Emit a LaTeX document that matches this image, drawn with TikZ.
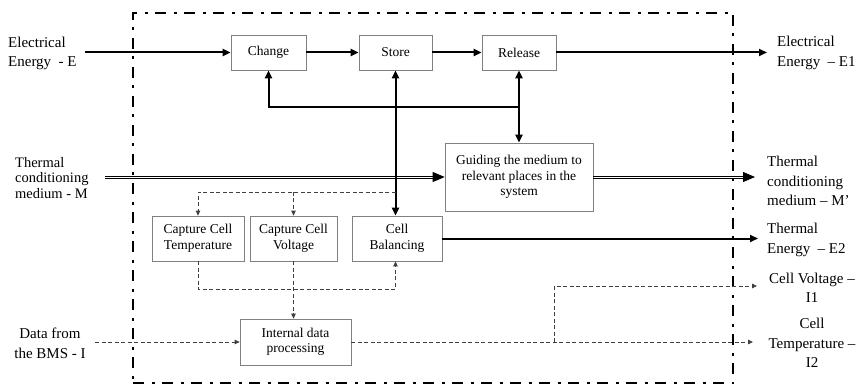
\documentclass[tikz,border=0pt]{standalone}
\usepackage{fontspec}
\setmainfont{Liberation Serif}
\usetikzlibrary{arrows.meta}
\begin{document}
\begin{tikzpicture}[x=1pt,y=-1pt,
  box/.style={draw=black!50, line width=0.7pt, fill=white, inner sep=1pt, align=center, font=\fontsize{13.5}{15.5}\selectfont},
  flow/.style={line width=2pt, -{Triangle[length=8pt,width=7pt]}},
  bflow/.style={line width=2pt, {Triangle[length=8pt,width=7pt]}-{Triangle[length=8pt,width=7pt]}},
  sig/.style={draw=black!75, line width=0.8pt, dash pattern=on 4pt off 2.5pt, -{Triangle[length=5pt,width=4.5pt]}},
  railup/.style={line width=0.8pt, transform canvas={yshift=1pt}},
  raildn/.style={line width=0.8pt, transform canvas={yshift=-1pt}},
  bigtip/.style={line width=0.8pt, -{Triangle[length=12pt,width=10pt]}},
  lbl/.style={align=left, font=\fontsize{15}{19.5}\selectfont, inner sep=0pt},
  sysframe/.style={draw, line width=2.5pt, dash pattern=on 11pt off 7.5pt on 3pt off 7.5pt}
]
\useasboundingbox (0,0) rectangle (858,387);

% system frame
\node[sysframe, minimum width=600pt, minimum height=370pt, inner sep=0pt] (sys) at (433,198) {};

% boxes
\node[box, minimum width=75pt, minimum height=35pt] (change) at (268.5,52.5) {Change};
\node[box, minimum width=73pt, minimum height=35pt] (store) at (395.5,52.5) {Store};
\node[box, minimum width=74pt, minimum height=35pt] (release) at (519,52.5) {Release};
\node[box, minimum width=148pt, minimum height=68pt] (guide) at (519,177) {Guiding the medium to\\relevant places in the\\system};
\node[box, minimum width=92pt, minimum height=45pt] (ctemp) at (198,238.5) {Capture Cell\\Temperature};
\node[box, minimum width=87pt, minimum height=45pt] (cvolt) at (293.5,238.5) {Capture Cell\\Voltage};
\node[box, minimum width=90pt, minimum height=45pt] (cbal) at (397,238.5) {Cell\\Balancing};
\node[box, minimum width=111pt, minimum height=46pt] (idp) at (295.5,342) {Internal data\\processing};

% labels
\node[lbl, anchor=west] (lE) at (8,53.5) {Electrical\\Energy~ - E};
\node[lbl, anchor=west] (lE1) at (777,53) {Electrical\\Energy~ – E1};
\node[lbl, anchor=west, font=\fontsize{14.5}{15.3}\selectfont] (lM) at (15,178) {Thermal\\conditioning\\medium - M};
\node[lbl, anchor=west] (lM1) at (767,181) {Thermal\\conditioning\\medium – M’};
\node[lbl, anchor=west] (lE2) at (767,240) {Thermal\\Energy~ – E2};
\node[lbl, align=center] (lI1) at (812,288) {Cell Voltage –\\I1};
\node[lbl, align=center] (lI2) at (812,343) {Cell\\Temperature –\\I2};
\node[lbl, align=center] (lI) at (50,343.5) {Data from\\the BMS - I};

% free ends
\coordinate (eIn) at (85,52.5);
\coordinate (eOut) at (767,52.5);
\coordinate (mIn) at (105,177);
\coordinate (mOut) at (755,177);
\coordinate (e2Out) at (758,238.5);
\coordinate (j1) at (519,107);
\coordinate (d1) at (395.5,192);
\coordinate (d2) at (395.5,289);
\coordinate (bIn) at (95,342);
\coordinate (i2Out) at (753,342);
\coordinate (br) at (554,342);
\coordinate (i1Out) at (757,286);

% thermal medium (double lines)
\draw[railup] (mIn) -- ([xshift=-10pt]guide.west);
\draw[raildn] (mIn) -- ([xshift=-10pt]guide.west);
\draw[bigtip] ([xshift=-11pt]guide.west) -- (guide.west);
\draw[railup] (guide.east) -- ([xshift=-10pt]mOut);
\draw[raildn] (guide.east) -- ([xshift=-10pt]mOut);
\draw[bigtip] ([xshift=-11pt]mOut) -- (mOut);

% energy flows
\draw[flow] (eIn) -- (change.west);
\draw[flow] (change.east) -- (store.west);
\draw[flow] (store.east) -- (release.west);
\draw[flow] (release.east) -- (eOut);
\draw[flow] (j1) -| (change.south);
\draw[bflow] (release.south) -- (guide.north);
\draw[bflow] (store.south) -- (store.south |- cbal.north);
\draw[flow] (cbal.east) -- (e2Out);

% signals
\draw[sig] (d1) -| (ctemp.north);
\draw[sig] (cvolt.north |- d1) -- (cvolt.north);
\draw[sig] (ctemp.south) |- (d2) -- (d2 |- cbal.south);
\draw[sig] (cvolt.south) -- (cvolt.south |- idp.north);
\draw[sig] (bIn) -- (idp.west);
\draw[sig] (idp.east) -- (i2Out);
\draw[sig] (br) |- (i1Out);
\end{tikzpicture}
\end{document}
